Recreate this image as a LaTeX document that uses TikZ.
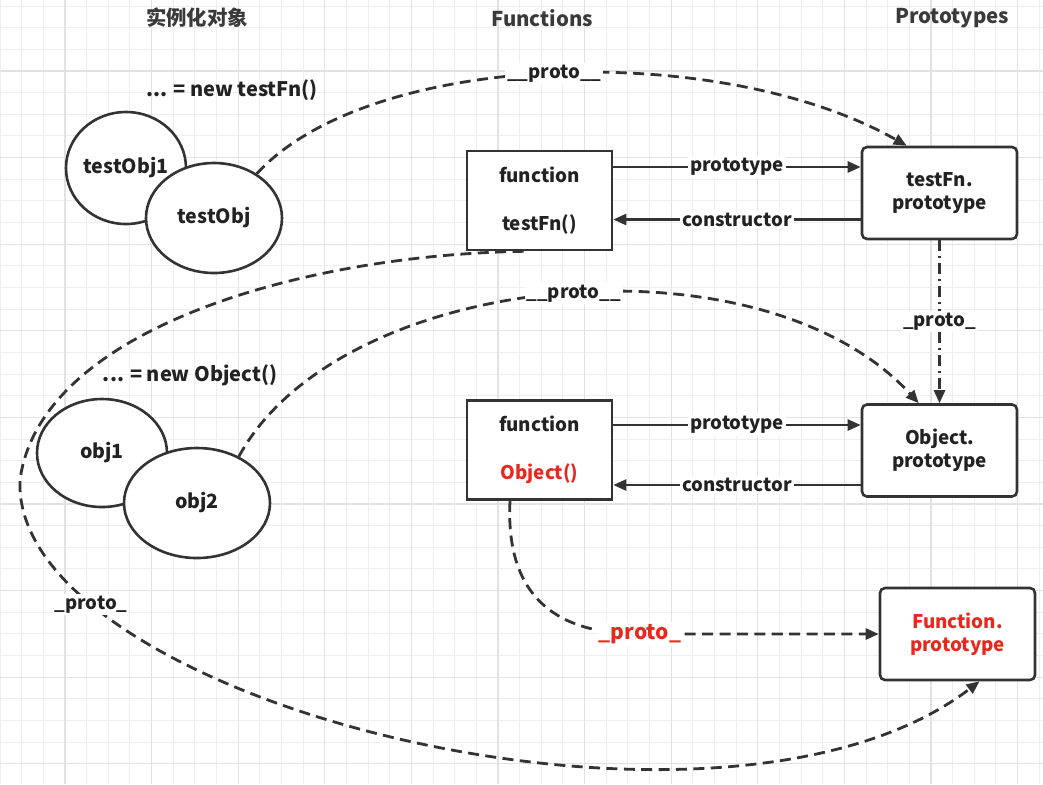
\documentclass[tikz,border=0pt]{standalone}
\usepackage{fontspec}
\setmainfont{Noto Sans CJK SC}
\newfontfamily\cjk{Noto Sans CJK SC}
\usetikzlibrary{arrows.meta,shapes.geometric}
\definecolor{ln}{HTML}{333333}
\definecolor{tx}{HTML}{222222}
\definecolor{tt}{HTML}{3A3A3A}
\definecolor{rd}{HTML}{E8281E}
\definecolor{gmin}{HTML}{EEEEEE}
\definecolor{gmaj}{HTML}{E2E2E2}
\tikzset{
  obj/.style={ellipse, draw=ln, line width=1.3pt, fill=white, inner sep=0pt,
    font=\fontsize{9.8}{12}\selectfont\bfseries, text=tx},
  fnbox/.style={rectangle, draw=ln, line width=1.3pt, fill=white,
    minimum width=72.5pt, minimum height=49.5pt, align=center, inner sep=0pt,
    font=\fontsize{9.4}{11}\selectfont\bfseries, text=tx},
  protobox/.style={rectangle, rounded corners=2.5pt, draw=ln, line width=1.3pt, fill=white,
    minimum width=77.5pt, minimum height=46pt, align=center, inner sep=0pt,
    font=\fontsize{9.4}{11.5}\selectfont\bfseries, text=tx},
  arr/.style={draw=ln, line width=1.3pt, -{Triangle[length=6.5pt,width=5.5pt]}},
  dsh/.style={arr, line width=1.4pt, dash pattern=on 5.5pt off 3.2pt},
  dshdot/.style={arr, line width=1.4pt, dash pattern=on 5.5pt off 2.5pt on 1pt off 2.5pt},
  lbl/.style={fill=white, inner sep=1pt, font=\fontsize{9.3}{11}\selectfont\bfseries, text=tx},
  ttl/.style={font=\fontsize{10.2}{12}\selectfont\bfseries, text=tt},
  gridmin/.style={draw=gmin, line width=0.5pt},
  gridmaj/.style={draw=gmaj, line width=0.6pt}
}
\begin{document}
\begin{tikzpicture}[x=0.5pt, y=-0.5pt]
\useasboundingbox (0,0) rectangle (1043,784);
\fill[white] (0,0) rectangle (1043,784);
% grid
\foreach \k in {0,...,48} { \draw[gridmin] (21.65*\k,0) -- (21.65*\k,784); }
\foreach \k in {0,...,36} { \draw[gridmin] (0,6+21.65*\k) -- (1043,6+21.65*\k); }
\foreach \k in {3,7,...,47} { \draw[gridmaj] (21.65*\k,0) -- (21.65*\k,784); }
\foreach \k in {3,7,...,35} { \draw[gridmaj] (0,6+21.65*\k) -- (1043,6+21.65*\k); }

% titles
\node[ttl] (t1) at (197,18) {\cjk\bfseries 实例化对象};
\node[ttl] (t2) at (542,18) {Functions};
\node[ttl] (t3) at (952,18) {Prototypes};
\node[lbl, fill=none, font=\fontsize{10}{11}\selectfont\bfseries] (n1) at (232,90) {... = new testFn()};
\node[lbl, fill=none, font=\fontsize{10}{11}\selectfont\bfseries] (n2) at (190,375) {... = new Object()};

% objects
\node[obj, minimum width=60pt, minimum height=56pt] (to1) at (126,168) {testObj1};
\node[obj, minimum width=68pt, minimum height=55pt] (to) at (214,218) {testObj};
\node[obj, minimum width=65pt, minimum height=54pt] (o1) at (102,453) {obj1};
\node[obj, minimum width=73pt, minimum height=55pt] (o2) at (197,503) {obj2};

% functions
\node[fnbox] (tfn) at (539.5,200.5) {function\\[13pt]testFn()};
\node[fnbox] (ofn) at (539.5,450) {function\\[13pt]\textcolor{rd}{Object()}};

% prototypes
\node[protobox] (tfp) at (939.5,193) {testFn.\\prototype};
\node[protobox] (ofp) at (939.5,450.5) {Object.\\prototype};
\node[protobox, text=rd] (ffp) at (957.5,634) {Function.\\prototype};

% prototype / constructor arrows
\coordinate (a1) at ([yshift=16.75pt]tfn.east);
\coordinate (a2) at ([yshift=-13.25pt]tfp.west);
\coordinate (a3) at ([yshift=12.5pt]ofn.east);
\coordinate (a4) at ([yshift=-17.25pt]ofp.west);
\draw[arr] (a1) -- (a1 -| tfp.west) node[lbl, midway] (l1) {prototype};
\draw[arr] (a2) -- (a2 -| tfn.east) node[lbl, midway] (l2) {constructor};
\draw[arr] (a3) -- (a3 -| ofp.west) node[lbl, midway] (l3) {prototype};
\draw[arr] (a4) -- (a4 -| ofn.east) node[lbl, midway] (l4) {constructor};

% proto chain testFn.prototype -> Object.prototype
\draw[dshdot] (tfp.south) -- (ofp.north) node[lbl, midway] (l5) {\_proto\_};

% testObj -> testFn.prototype
\draw[dsh] (to.46) .. controls (370,50) and (720,40) .. ([xshift=23pt]tfp.north west)
  node[lbl, pos=0.5] (l6) {\_\_proto\_\_};

% obj2 -> Object.prototype
\draw[dsh] (o2.48) .. controls (340,270) and (760,230) .. ([xshift=29pt]ofp.north west)
  node[lbl, pos=0.52] (l7) {\_\_proto\_\_};

% testFn -> Function.prototype (big loop)
\draw[dsh] ([xshift=-8pt]tfn.south) .. controls (300,255) and (40,330) .. (20,480)
  .. controls (10,700) and (720,880) .. ([xshift=11pt]ffp.south)
  node[lbl, pos=0.2] (l8) {\_proto\_};

% Object() -> Function.prototype
\coordinate (c1) at (640,634);
\draw[dsh] ([xshift=-14.75pt]ofn.south) .. controls (505,600) and (560,634) .. (c1) -- (ffp.west);
\node[lbl, text=rd, font=\fontsize{10.5}{12}\selectfont\bfseries] (l9) at (c1) {\_proto\_};
\end{tikzpicture}
\end{document}
